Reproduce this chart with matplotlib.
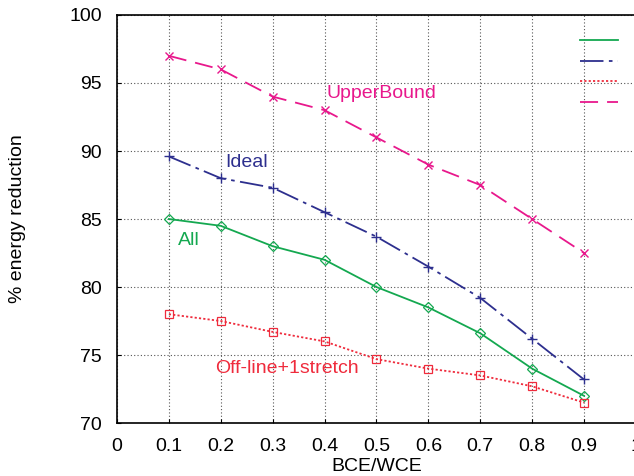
import matplotlib
matplotlib.use("Agg")
import matplotlib.pyplot as plt

plt.rcParams['font.family'] = ['Liberation Sans', 'DejaVu Sans']

# BCE/WCE ratio
x = [0.1, 0.2, 0.3, 0.4, 0.5, 0.6, 0.7, 0.8, 0.9]

# % energy reduction per scheme
all_red = [85.0, 84.5, 83.0, 82.0, 80.0, 78.5, 76.6, 74.0, 72.0]
ideal_red = [89.6, 88.0, 87.3, 85.5, 83.7, 81.5, 79.2, 76.2, 73.2]
offline_red = [78.0, 77.5, 76.7, 76.0, 74.7, 74.0, 73.5, 72.7, 71.5]
upper_red = [97.0, 96.0, 94.0, 93.0, 91.0, 89.0, 87.5, 85.0, 82.5]

xticks = [0, 0.1, 0.2, 0.3, 0.4, 0.5, 0.6, 0.7, 0.8, 0.9, 1]
xticklabels = ["0", "0.1", "0.2", "0.3", "0.4", "0.5", "0.6", "0.7", "0.8", "0.9", "1"]
yticks = [70, 75, 80, 85, 90, 95, 100]

GREEN = "#14a850"
NAVY = "#2d2f8e"
RED = "#ef2b3c"
MAGENTA = "#e8188c"

fig = plt.figure(figsize=(6.34, 4.76), dpi=100)
ax = fig.add_axes([0.1845, 0.1113, 0.8185, 0.8572])

ax.plot(x, all_red, color=GREEN, lw=1.3, marker="D", ms=5, mfc="none",
        mew=0.9, label="All")
ax.plot(x, ideal_red, color=NAVY, lw=1.3, marker="+", ms=7.5, mew=1.0,
        dashes=(13, 3, 2, 3), label="Ideal")
ax.plot(x, offline_red, color=RED, lw=1.3, marker="s", ms=5.5, mfc="none",
        mew=0.9, dashes=(1.2, 1.2), label="Off-line+1stretch")
ax.plot(x, upper_red, color=MAGENTA, lw=1.3, marker="x", ms=5.5, mew=1.0,
        dashes=(10, 5), label="UpperBound")

ax.text(0.403, 93.9, "UpperBound", color=MAGENTA, fontsize=14)
ax.text(0.208, 88.8, "Ideal", color=NAVY, fontsize=14)
ax.text(0.117, 83.1, "All", color=GREEN, fontsize=14)
ax.text(0.189, 73.7, "Off-line+1stretch", color=RED, fontsize=14)

ax.set_xlim(0, 1)
ax.set_ylim(70, 100)
ax.set_xticks(xticks)
ax.set_xticklabels(xticklabels)
ax.set_yticks(yticks)
ax.tick_params(direction="in", length=3, labelsize=14, pad=11)
ax.grid(True, color="#555555", lw=0.8, dashes=(1, 2))
ax.set_axisbelow(True)
for sp in ax.spines.values():
    sp.set_linewidth(1.2)

ax.set_xlabel("BCE/WCE", fontsize=14, labelpad=2)
ax.set_ylabel("% energy reduction", fontsize=14, labelpad=31)

# legend labels sit past the right edge, as in the cropped original
leg = ax.legend(loc="upper left", bbox_to_anchor=(580 / 634, 0.928),
                bbox_transform=fig.transFigure, frameon=False, fontsize=12,
                handlelength=2.28, borderpad=0, borderaxespad=0,
                labelspacing=0.33, handletextpad=1.4)
for h in leg.get_lines():
    h.set_marker("")

fig.savefig("out.png", dpi=100)
